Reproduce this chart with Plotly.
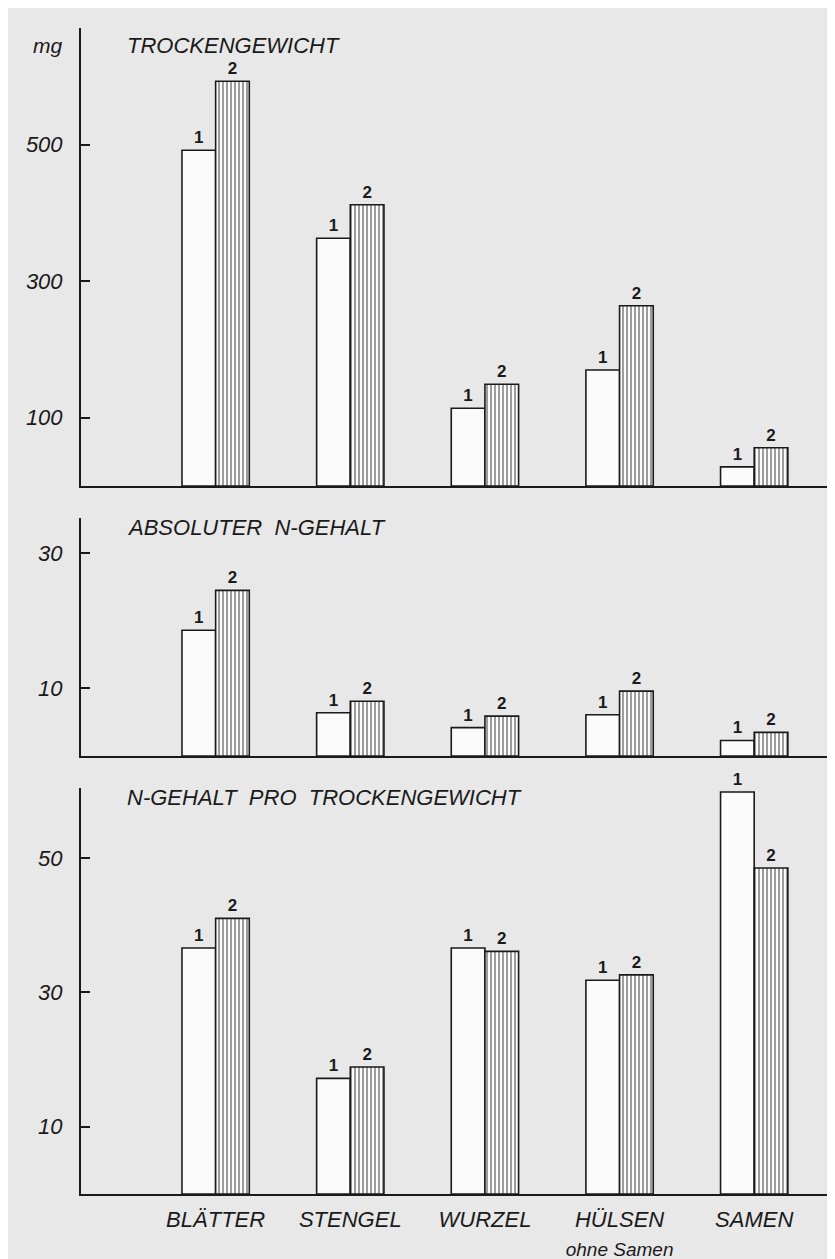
import plotly.graph_objects as go

categories = ["BLÄTTER", "STENGEL", "WURZEL", "HÜLSEN", "SAMEN"]
cat_labels = ["BLÄTTER", "STENGEL", "WURZEL",
              "HÜLSEN<br><span style='font-size:19px'>ohne Samen</span>", "SAMEN"]

# Panel 1: Trockengewicht (mg)
tw_1 = [492, 363, 114, 170, 28]
tw_2 = [593, 412, 149, 264, 56]
# Panel 2: absoluter N-Gehalt
n_1 = [18.6, 6.4, 4.2, 6.1, 2.3]
n_2 = [24.5, 8.1, 5.9, 9.6, 3.5]
# Panel 3: N-Gehalt pro Trockengewicht
npt_1 = [36.6, 17.2, 36.6, 31.8, 59.8]
npt_2 = [41.0, 18.9, 36.1, 32.6, 48.5]

titles = ["TROCKENGEWICHT", "ABSOLUTER  N-GEHALT", "N-GEHALT  PRO  TROCKENGEWICHT"]
yticks = [[100, 300, 500], [10, 30], [10, 30, 50]]
yranges = [[0, 671], [0, 35.2], [0, 60.4]]

OFF = 8  # page body margin
W, H = 835 - OFF, 1259 - OFF
L = 81 - OFF
# pixel extents of panels (top, bottom) in reference coords
panels_ref = [(28, 486), (518, 756), (788, 1194)]
panels_px = [(t - OFF, b - OFF) for t, b in panels_ref]

FONT = "Liberation Sans"
BG = "#e8e8e8"
INK = "#1a1a1a"
FILL = "#fbfbfb"

fig = go.Figure()
series = [(tw_1, tw_2), (n_1, n_2), (npt_1, npt_2)]
for i, (s1, s2) in enumerate(series):
    ax = "" if i == 0 else str(i + 1)
    fig.add_trace(go.Bar(
        x=categories, y=s1, xaxis="x" + ax, yaxis="y" + ax,
        marker=dict(color=FILL, line=dict(color=INK, width=1.6)),
        text=["<b>1</b>"] * len(s1), textposition="outside",
        textfont=dict(family=FONT, size=17, color=INK),
        cliponaxis=False, showlegend=False, offsetgroup="1"))
    fig.add_trace(go.Bar(
        x=categories, y=s2, xaxis="x" + ax, yaxis="y" + ax,
        marker=dict(color=FILL, line=dict(color=INK, width=1.6),
                    pattern=dict(shape="|", fgcolor=INK, bgcolor=FILL,
                                 size=4, solidity=0.42)),
        text=["<b>2</b>"] * len(s2), textposition="outside",
        textfont=dict(family=FONT, size=17, color=INK),
        cliponaxis=False, showlegend=False, offsetgroup="2"))

layout = dict(
    width=W, height=H,
    margin=dict(l=L, r=0, t=0, b=0),
    paper_bgcolor=BG, plot_bgcolor=BG,
    barmode="group", bargap=0.5, bargroupgap=0,
    font=dict(family=FONT, color=INK),
)
annotations = []
for i, (top, bot) in enumerate(panels_px):
    ax = "" if i == 0 else str(i + 1)
    d0 = 1 - bot / H
    d1 = 1 - top / H
    layout["xaxis" + ax] = dict(
        domain=[0, 1], anchor="y" + ax, type="category",
        categoryorder="array", categoryarray=categories,
        range=[-1.0, 4.6], showline=True, linecolor=INK, linewidth=2,
        showgrid=False, zeroline=False, ticks="", ticklabelstandoff=5,
        showticklabels=(i == 2), tickvals=categories, ticktext=cat_labels,
        tickfont=dict(family=FONT, size=22, style="italic", color=INK),
    )
    layout["yaxis" + ax] = dict(
        domain=[d0, d1], anchor="x" + ax, range=yranges[i],
        showline=True, linecolor=INK, linewidth=2, showgrid=False,
        zeroline=False, tickvals=yticks[i], ticks="inside", ticklen=9,
        tickwidth=2, tickcolor=INK, ticklabelstandoff=12,
        tickfont=dict(family=FONT, size=22, style="italic", color=INK),
    )
    annotations.append(dict(
        text=titles[i], xref="x" + ax + " domain", yref="y" + ax + " domain",
        x=0.058, y=1 - (9 if i else 17) / (bot - top), xanchor="left", yanchor="middle",
        showarrow=False, font=dict(family=FONT, size=22, style="italic", color=INK)))

annotations.append(dict(
    text="mg", xref="paper", yref="y domain", x=-0.022, y=1 - 17 / (486 - 28),
    xanchor="right", yanchor="middle", showarrow=False,
    font=dict(family=FONT, size=21, style="italic", color=INK)))
layout["annotations"] = annotations

fig.update_layout(**layout)
fig.write_html("out.html")
